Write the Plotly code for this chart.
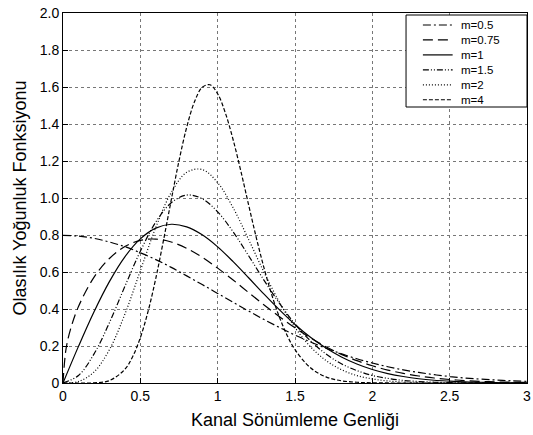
import plotly.graph_objects as go

x_common = [0, 0.1, 0.2, 0.3, 0.4, 0.5, 0.6, 0.7, 0.8, 0.9, 1.0, 1.1, 1.2, 1.3, 1.4, 1.5,
            1.6, 1.7, 1.8, 1.9, 2.0, 2.1, 2.2, 2.3, 2.4, 2.5, 2.6, 2.7, 2.8, 2.9, 3.0]

y_m05 = [0.798, 0.794, 0.782, 0.762, 0.737, 0.704, 0.667, 0.625, 0.579, 0.532, 0.484, 0.436,
         0.389, 0.343, 0.300, 0.259, 0.222, 0.188, 0.158, 0.131, 0.108, 0.088, 0.071, 0.057,
         0.045, 0.035, 0.027, 0.021, 0.016, 0.012, 0.009]

x_m075 = [0, 0.02, 0.05, 0.1, 0.2, 0.3, 0.4, 0.5, 0.6, 0.7, 0.8, 0.9, 1.0, 1.1, 1.2, 1.3, 1.4, 1.5,
          1.6, 1.7, 1.8, 1.9, 2.0, 2.1, 2.2, 2.3, 2.4, 2.5, 2.6, 2.7, 2.8, 2.9, 3.0]
y_m075 = [0, 0.186, 0.294, 0.413, 0.571, 0.673, 0.738, 0.771, 0.778, 0.762, 0.728, 0.680, 0.621,
          0.557, 0.489, 0.422, 0.358, 0.298, 0.244, 0.196, 0.155, 0.121, 0.093, 0.070, 0.052,
          0.038, 0.027, 0.019, 0.013, 0.009, 0.006, 0.004, 0.003]

y_m1 = [0, 0.198, 0.384, 0.548, 0.682, 0.779, 0.837, 0.858, 0.844, 0.801, 0.736, 0.656, 0.569,
        0.480, 0.395, 0.316, 0.247, 0.189, 0.141, 0.103, 0.073, 0.051, 0.035, 0.023, 0.015,
        0.010, 0.006, 0.004, 0.002, 0.001, 0.001]

y_m15 = [0, 0.041, 0.156, 0.326, 0.522, 0.712, 0.870, 0.974, 1.016, 0.996, 0.925, 0.817, 0.688,
         0.555, 0.430, 0.319, 0.228, 0.157, 0.104, 0.067, 0.041, 0.025, 0.014, 0.008, 0.004,
         0.002, 0.001, 0.0005, 0.0002, 0.0001, 0.0]

y_m2 = [0, 0.008, 0.059, 0.180, 0.372, 0.607, 0.841, 1.030, 1.139, 1.154, 1.083, 0.947, 0.776,
        0.598, 0.436, 0.300, 0.196, 0.122, 0.072, 0.040, 0.022, 0.011, 0.005, 0.003, 0.001,
        0.0005, 0.0002, 0.0001, 0.0, 0.0, 0.0]

x_m4 = [0, 0.1, 0.2, 0.3, 0.4, 0.45, 0.5, 0.55, 0.6, 0.65, 0.7, 0.75, 0.8, 0.85, 0.9, 0.95, 1.0,
        1.05, 1.1, 1.15, 1.2, 1.25, 1.3, 1.35, 1.4, 1.45, 1.5, 1.6, 1.7, 1.8, 1.9, 2.0, 2.2, 2.5, 3.0]
y_m4 = [0, 0.0, 0.001, 0.013, 0.074, 0.142, 0.245, 0.387, 0.566, 0.772, 0.990, 1.201, 1.383,
        1.520, 1.598, 1.612, 1.563, 1.459, 1.315, 1.145, 0.963, 0.785, 0.621, 0.476, 0.354,
        0.256, 0.180, 0.082, 0.033, 0.012, 0.004, 0.001, 0.0, 0.0, 0.0]

x_ticks = [0, 0.5, 1, 1.5, 2, 2.5, 3]
x_ticktext = ["0", "0.5", "1", "1.5", "2", "2.5", "3"]
y_ticks = [0, 0.2, 0.4, 0.6, 0.8, 1.0, 1.2, 1.4, 1.6, 1.8, 2.0]
y_ticktext = ["0", "0.2", "0.4", "0.6", "0.8", "1.0", "1.2", "1.4", "1.6", "1.8", "2.0"]

series = [
    ("m=0.5", x_common, y_m05, "8px,3px,2px,3px"),
    ("m=0.75", x_m075, y_m075, "10px,5px"),
    ("m=1", x_common, y_m1, "solid"),
    ("m=1.5", x_common, y_m15, "6px,2px,1px,2px,1px,2px"),
    ("m=2", x_common, y_m2, "1px,2px"),
    ("m=4", x_m4, y_m4, "4px,2px"),
]

W, H = 533, 435
L, R, T, B = 63, 2, 13, 52
PW, PH = W - L - R, H - T - B


def px(xp):
    return (xp - L) / PW


def py(yp):
    return (H - B - yp) / PH


fig = go.Figure()
for name, xs, ys, dash in series:
    fig.add_trace(go.Scatter(x=xs, y=ys, mode="lines", name=name, line_shape="spline",
                             showlegend=False,
                             line=dict(color="black", width=1.2, dash=dash)))

font = "Liberation Sans, Arial, sans-serif"

# manual legend box (MATLAB style)
leg_font = 11.5
row_h = leg_font * 1.3
row0 = 25
shapes = [dict(type="rect", xref="paper", yref="paper", x0=px(409), x1=px(531),
               y0=py(107), y1=py(15), fillcolor="white", line=dict(color="black", width=1),
               layer="above")]
for i, (name, _, _, dash) in enumerate(series):
    yr = row0 + i * row_h
    shapes.append(dict(type="line", xref="paper", yref="paper", x0=px(426), x1=px(456),
                       y0=py(yr), y1=py(yr), line=dict(color="black", width=1.2, dash=dash),
                       layer="above"))
mid = row0 + 2.5 * row_h
annotations = [dict(xref="paper", yref="paper", x=px(463), y=py(mid),
                    text="<br>".join(s[0] for s in series), align="left",
                    showarrow=False, xanchor="left", yanchor="middle", borderpad=0,
                    font=dict(size=leg_font, family=font, color="black"))]

fig.update_layout(
    width=W, height=H,
    margin=dict(l=L, r=R, t=T, b=B),
    paper_bgcolor="white", plot_bgcolor="white",
    font=dict(family=font, color="black", size=14),
    showlegend=False,
    shapes=shapes, annotations=annotations,
    xaxis=dict(range=[0, 3], tickvals=x_ticks, ticktext=x_ticktext, showgrid=True,
               gridcolor="#777", griddash="dot", gridwidth=1, showline=True, linecolor="black",
               linewidth=1, mirror=True, ticks="inside", ticklen=5, tickcolor="black",
               zeroline=False, tickfont=dict(size=14), ticklabeloverflow="allow",
               title=dict(text="Kanal Sönümleme Genliği", font=dict(size=18), standoff=10)),
    yaxis=dict(range=[0, 2], tickvals=y_ticks, ticktext=y_ticktext, showgrid=True,
               gridcolor="#777", griddash="dot", gridwidth=1, showline=True, linecolor="black",
               linewidth=1, mirror=True, ticks="inside", ticklen=5, tickcolor="black",
               zeroline=False, tickfont=dict(size=14), ticklabeloverflow="allow",
               title=dict(text="Olasılık Yoğunluk Fonksiyonu", font=dict(size=18), standoff=8)),
)

fig.write_html("out.html")
